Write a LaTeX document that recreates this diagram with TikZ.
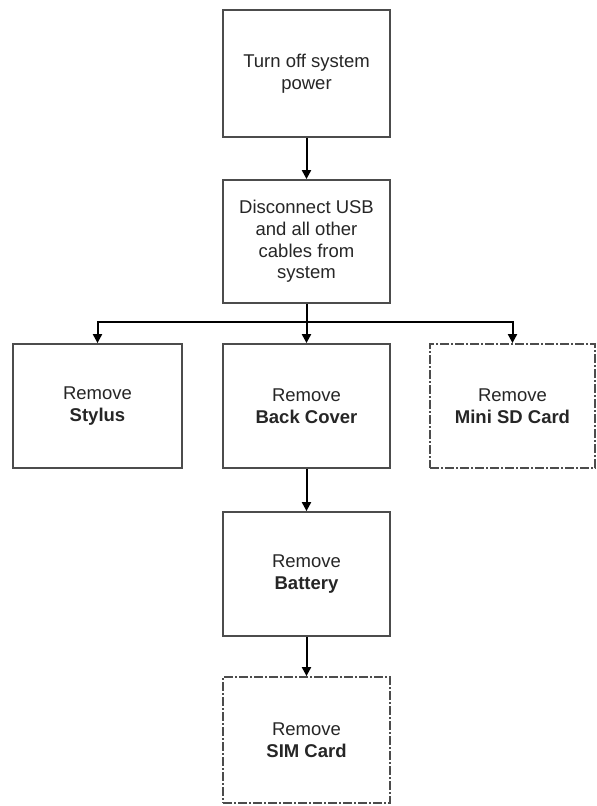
\documentclass[tikz,border=0pt]{standalone}
\usepackage{fontspec}
\setmainfont{Liberation Sans}
\usetikzlibrary{arrows.meta}
\begin{document}
\begin{tikzpicture}[x=1pt,y=-1pt,
  box/.style={draw=black!70,line width=1.8pt,fill=white,align=center,inner sep=0pt,
    font=\fontsize{18.5}{21.7}\selectfont,text=black!85,minimum width=167pt,minimum height=124pt},
  optbox/.style={box,dash pattern=on 9pt off 2pt on 2pt off 2pt},
  arr/.style={line width=2pt,-{Triangle[length=9pt,width=9pt]}}]
\useasboundingbox (0,0) rectangle (597,806);
\node[box,minimum height=127pt] (power) at (306.5,73.5) {Turn off system\\power};
\node[box,minimum height=123pt] (disc) at (306.5,241.5) {Disconnect USB\\and all other\\cables from\\system};
\node[box,minimum width=169pt] (stylus) at (97.5,406) {Remove\\\textbf{Stylus}};
\node[box] (cover) at (306.5,406) {Remove\\\textbf{Back Cover}};
\node[optbox,minimum width=165pt] (sd) at (512.5,406) {Remove\\\textbf{Mini SD Card}};
\node[box] (battery) at (306.5,574) {Remove\\\textbf{Battery}};
\node[optbox,minimum height=126pt] (sim) at (306.5,740) {Remove\\\textbf{SIM Card}};
\coordinate (split) at (306.5,322);
\draw[arr] (power) -- (disc);
\draw[line width=2pt] (disc.south) -- (split);
\draw[arr] (split) -| (stylus.north);
\draw[arr] (split) -| (sd.north);
\draw[arr] (split) -- (cover.north);
\draw[arr] (cover) -- (battery);
\draw[arr] (battery) -- (sim);
\end{tikzpicture}
\end{document}
